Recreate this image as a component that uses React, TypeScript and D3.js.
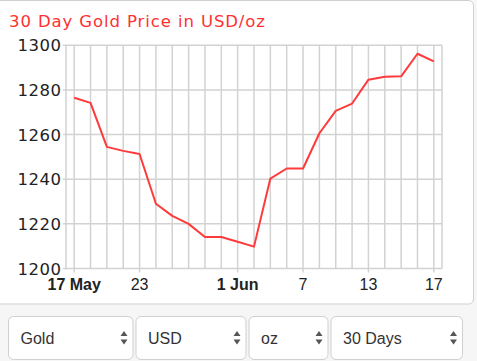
import { useEffect, useRef } from 'react';
import * as d3 from 'd3';

// trading-day closes, 17 May .. 17 Jun
const prices = [
  1276.5, 1274.2, 1254.5, 1252.7, 1251.3, 1229.0, 1223.6, 1220.0, 1214.1, 1214.1, 1212.0, 1209.8,
  1240.3, 1244.8, 1244.8, 1260.6, 1270.6, 1273.9, 1284.6, 1285.9, 1286.1, 1296.2, 1292.8,
];
const xTickIndex = [0, 4, 10, 14, 18, 22];
const xTickLabels = ['17 May', '23', '1 Jun', '7', '13', '17'];
const xTickBold = [true, false, true, false, false, false];
const yTicks = [1200, 1220, 1240, 1260, 1280, 1300];
const selectLabels = ['Gold', 'USD', 'oz', '30 Days'];
const selectEdges = [8, 135, 248, 330, 463];

const W = 477;
const H = 361;

export default function App() {
  const svgRef = useRef<SVGSVGElement>(null);

  useEffect(() => {
    if (!svgRef.current) return;
    const svg = d3.select(svgRef.current);
    svg.selectAll('*').remove();

    const margin = { left: 66, right: 442, top: 45.3, bottom: 268.5 };

    // page background + chart panel
    svg.append('rect').attr('width', W).attr('height', H).attr('fill', '#f6f6f6');
    svg.append('rect')
      .attr('x', -6).attr('y', 0.5)
      .attr('width', 479.5).attr('height', 303.5)
      .attr('rx', 5)
      .attr('fill', '#fff')
      .attr('stroke', '#cfcfcf');

    svg.append('text')
      .attr('x', 9).attr('y', 26.5)
      .attr('font-family', '"DejaVu Sans", Verdana, sans-serif')
      .attr('font-size', 16.5)
      .attr('fill', '#ff3030')
      .attr('textLength', 256)
      .attr('lengthAdjust', 'spacing')
      .text('30 Day Gold Price in USD/oz');

    const x = d3.scaleLinear().domain([-0.5, prices.length - 0.5]).range([margin.left, margin.right]);
    const y = d3.scaleLinear().domain([1200, 1300]).range([margin.bottom, margin.top]);

    const grid = svg.append('g').attr('stroke', '#d2d2d2').attr('stroke-width', 1.5);

    grid.selectAll('.h')
      .data(yTicks)
      .enter()
      .append('line')
      .attr('x1', margin.left - 3)
      .attr('x2', margin.right)
      .attr('y1', (d) => y(d))
      .attr('y2', (d) => y(d));

    grid.selectAll('.v')
      .data(d3.range(prices.length))
      .enter()
      .append('line')
      .attr('x1', (d) => x(d))
      .attr('x2', (d) => x(d))
      .attr('y1', margin.top)
      .attr('y2', (d) => (xTickIndex.includes(d) ? margin.bottom + 4 : margin.bottom));

    grid.append('line')
      .attr('x1', margin.left).attr('x2', margin.left)
      .attr('y1', margin.top).attr('y2', margin.bottom + 1);
    grid.append('line')
      .attr('x1', margin.right).attr('x2', margin.right)
      .attr('y1', margin.top).attr('y2', margin.bottom);

    svg.append('g')
      .selectAll('text')
      .data(yTicks)
      .enter()
      .append('text')
      .attr('x', 61)
      .attr('y', (d) => y(d) + 6)
      .attr('text-anchor', 'end')
      .attr('font-family', '"DejaVu Sans", Verdana, sans-serif')
      .attr('font-size', 16.5)
      .attr('fill', '#222')
      .attr('textLength', 43.5)
      .attr('lengthAdjust', 'spacing')
      .text((d) => d);

    svg.append('g')
      .selectAll('text')
      .data(xTickIndex)
      .enter()
      .append('text')
      .attr('x', (d) => x(d))
      .attr('y', 290)
      .attr('text-anchor', 'middle')
      .attr('font-family', '"Liberation Sans", Arial, sans-serif')
      .attr('font-size', 16)
      .attr('font-weight', (_, i) => (xTickBold[i] ? 'bold' : 'normal'))
      .attr('fill', '#222')
      .text((_, i) => xTickLabels[i]);

    const line = d3
      .line<number>()
      .x((_, i) => x(i))
      .y((d) => y(d));

    svg.append('path')
      .datum(prices)
      .attr('fill', 'none')
      .attr('stroke', '#ff3a3a')
      .attr('stroke-width', 2)
      .attr('stroke-linejoin', 'round')
      .attr('d', line);

    // dropdown row
    const sel = svg.append('g');
    selectLabels.forEach((label, i) => {
      const x0 = selectEdges[i] + (i === 0 ? 0 : 0.5);
      const x1 = selectEdges[i + 1] - (i === selectLabels.length - 1 ? 0 : 1.5);
      const g = sel.append('g');
      g.append('rect')
        .attr('x', x0 + 0.5).attr('y', 316.5)
        .attr('width', x1 - x0 - 1).attr('height', 43)
        .attr('rx', 5)
        .attr('fill', '#fff')
        .attr('stroke', '#cfcfcf');
      g.append('text')
        .attr('x', x0 + 12.5).attr('y', 343.5)
        .attr('font-family', '"Liberation Sans", Arial, sans-serif')
        .attr('font-size', 16)
        .attr('fill', '#333')
        .text(label);
      const ax = x1 - 9.5;
      g.append('path')
        .attr('d', `M${ax - 3.5},336 L${ax + 3.5},336 L${ax},331 Z`)
        .attr('fill', '#555');
      g.append('path')
        .attr('d', `M${ax - 3.5},339.5 L${ax + 3.5},339.5 L${ax},344.5 Z`)
        .attr('fill', '#555');
    });
  }, []);

  return (
    <svg
      ref={svgRef}
      width={W}
      height={H}
      style={{ position: 'absolute', left: 0, top: 0, display: 'block' }}
    />
  );
}
